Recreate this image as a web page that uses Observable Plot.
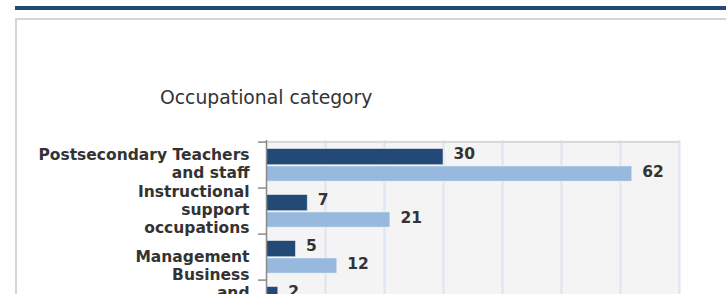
<!DOCTYPE html>
<html>
<head>
<meta charset="utf-8">
<script src="https://cdn.jsdelivr.net/npm/d3@7"></script>
<script src="https://cdn.jsdelivr.net/npm/@observablehq/plot@0.6"></script>
<style>
  html, body { margin: 0; padding: 0; background: #fff; }
  body { width: 726px; height: 294px; overflow: hidden; position: relative; font-family: "DejaVu Sans", sans-serif; }
  .topbar { position: absolute; left: 15px; top: 6px; width: 711px; height: 4px; background: #244a76; }
  .card { position: absolute; left: 15px; top: 18px; width: 740px; height: 320px; border: 2px solid #d5d5d5; box-sizing: border-box; background: #fff; }
  .title { position: absolute; left: 160px; top: 89px; font-size: 18.8px; line-height: 18.8px; color: #333; white-space: nowrap; }
  #chart { position: absolute; left: 0; top: 0; }
</style>
</head>
<body>
<div class="topbar"></div>
<div class="card"></div>
<div class="title">Occupational category</div>
<div id="chart"></div>
<script>
// Categories (wrapped label text as drawn) and series values
const categories = [
  "Postsecondary Teachers and staff",
  "Instructional support occupations",
  "Management Business and Financial Operations",
  "Office and Administrative Support"
];
const categoryLabels = [
  "Postsecondary Teachers\nand staff",
  "Instructional\nsupport\noccupations",
  "Management\nBusiness\nand\nFinancial\nOperations",
  "Office and Administrative Support"
];
const seriesA = [30, 7, 5, 2];        // dark blue
const seriesB = [62, 21, 12, null];   // light blue (4th not visible)
const xTicks = [10, 20, 30, 40, 50, 60, 70];

const dataA = categories.map((c, i) => ({category: c, value: seriesA[i]}));
const dataB = categories.map((c, i) => ({category: c, value: seriesB[i]})).filter(d => d.value != null);
const labelData = categories.map((c, i) => ({category: c, label: categoryLabels[i], lines: categoryLabels[i].split("\n").length}));

const band = 46.8;
const fs = 15.5;
const chart = Plot.plot({
  width: 726,
  height: 340,
  marginLeft: 266,
  marginRight: 47,
  marginTop: 140,
  marginBottom: 340 - 140 - band * categories.length,
  style: {fontFamily: "DejaVu Sans", background: "transparent", overflow: "visible"},
  x: {domain: [0, 70], axis: null},
  y: {domain: categories, padding: 0, axis: null},
  marks: [
    Plot.frame({fill: "#f4f4f4", stroke: null}),
    Plot.ruleX(xTicks, {stroke: "#dce5f0", strokeWidth: 2}),
    Plot.ruleY([categories[0]], {dy: -band / 2, stroke: "#d9d9d9", strokeWidth: 2}),
    Plot.barX(dataA, {x: "value", y: "category", fill: "#234a76", stroke: "#ffffff", strokeOpacity: 0.5, strokeWidth: 1, insetTop: 6.5, insetBottom: 23.3}),
    Plot.barX(dataB, {x: "value", y: "category", fill: "#97b9dd", stroke: "#ffffff", strokeOpacity: 0.5, strokeWidth: 1, insetTop: 23.9, insetBottom: 6.8}),
    Plot.text(dataA, {x: "value", y: "category", text: d => String(d.value), dx: 10, dy: -11, textAnchor: "start", fontSize: fs, fontWeight: "bold", fill: "#333"}),
    Plot.text(dataB, {x: "value", y: "category", text: d => String(d.value), dx: 10, dy: 6.2, textAnchor: "start", fontSize: fs, fontWeight: "bold", fill: "#333"}),
    Plot.text(labelData.filter(d => d.lines <= 3), {y: "category", text: "label", frameAnchor: "left", dx: -17, dy: -2.5, textAnchor: "end", lineAnchor: "middle", lineHeight: 1.16, fontSize: fs, fontWeight: "bold", fill: "#333"}),
    Plot.text(labelData.filter(d => d.lines > 3), {y: "category", text: "label", frameAnchor: "left", dx: -17, dy: -8.5, textAnchor: "end", lineAnchor: "top", lineHeight: 1.16, fontSize: fs, fontWeight: "bold", fill: "#333"}),
    Plot.axisY({tickSize: 8, tickFormat: () => "", label: null, dy: -band / 2, stroke: "#8a8a8a", strokeWidth: 1.5}),
    Plot.ruleX([0], {stroke: "#8a8a8a", strokeWidth: 1.5})
  ]
});
document.getElementById("chart").appendChild(chart);
</script>
</body>
</html>
